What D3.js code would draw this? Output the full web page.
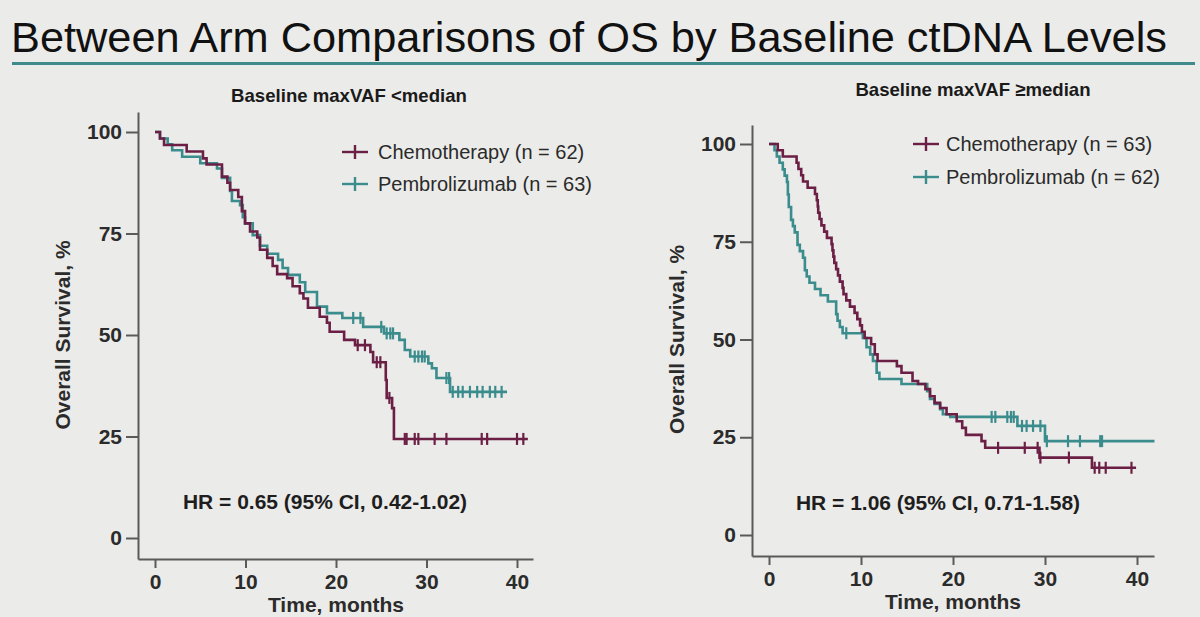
<!DOCTYPE html>
<html>
<head>
<meta charset="utf-8">
<script src="https://cdn.jsdelivr.net/npm/d3@7"></script>
<style>
  body { margin: 0; background: #ebebe9; }
  svg { display: block; font-family: "Liberation Sans", Arial, sans-serif; }
</style>
</head>
<body>
<div id="chart"></div>
<script>
// ---- data (time in months, survival in %) ----
const seriesNames = ["Chemotherapy", "Pembrolizumab"];
const panelTitles = ["Baseline maxVAF <median", "Baseline maxVAF \u2265median"];
const leftCounts = [62, 63];
const rightCounts = [63, 62];
const hrLabels = ["HR = 0.65 (95% CI, 0.42-1.02)", "HR = 1.06 (95% CI, 0.71-1.58)"];
const yTicks = [0, 25, 50, 75, 100];
const xTicks = [0, 10, 20, 30, 40];

const leftChemoSteps = [
  [0, 100], [0.55, 98.4], [1.0, 96.8], [3.5, 95.2], [5.3, 93.5], [5.7, 92.0], [7.4, 89.0],
  [8.0, 87.5], [8.3, 85.7], [9.2, 84.0], [9.6, 80.5], [9.95, 77.5], [10.5, 75.5], [11.3, 74.0],
  [11.6, 71.0], [12.4, 69.0], [13.0, 67.0], [13.5, 65.0], [14.6, 64.0], [15.2, 62.0], [16.0, 60.3],
  [16.4, 59.0], [16.9, 56.7], [18.2, 54.5], [19.0, 53.0], [19.3, 50.8], [20.9, 48.8], [22.1, 47.5],
  [23.8, 45.8], [24.1, 43.3], [25.5, 38.9], [25.6, 34.5], [26.2, 32.0], [26.4, 24.4], [41.2, 24.4]
];
const leftChemoCensored = [22.4, 23.2, 24.5, 24.9, 25.9, 27.6, 27.8, 28.7, 29.1, 30.9, 32.2, 36.1, 36.7, 40.0, 40.7];

const leftPembroSteps = [
  [0, 100], [0.55, 98.4], [1.4, 97.0], [1.9, 95.5], [3.0, 93.9], [5.0, 92.3], [6.85, 91.0],
  [7.4, 88.7], [8.3, 85.5], [8.5, 83.0], [9.4, 82.0], [9.7, 79.0], [9.95, 77.5], [10.8, 74.6],
  [11.6, 72.0], [12.4, 70.0], [13.6, 68.5], [14.1, 66.5], [14.7, 64.8], [16.0, 63.0], [16.6, 60.6],
  [17.9, 57.0], [19.0, 55.4], [20.7, 54.2], [23.0, 52.0], [25.3, 50.4], [27.0, 48.8], [27.6, 46.3],
  [28.2, 44.7], [30.2, 43.0], [30.6, 41.8], [31.1, 39.4], [32.6, 36.0], [38.9, 36.0]
];
const leftPembroCensored = [21.9, 22.7, 25.0, 25.6, 26.0, 26.3, 28.7, 29.1, 29.5, 29.8, 32.2, 32.5,
  32.9, 33.5, 34.0, 34.8, 35.6, 36.2, 37.0, 37.6, 38.3];

const rightChemoSteps = [
  [0, 100], [0.95, 98.4], [1.5, 96.8], [3.0, 95.2], [3.2, 93.6], [3.5, 92.0], [3.7, 90.4],
  [4.2, 88.8], [5.0, 87.2], [5.2, 85.6], [5.3, 84.0], [5.35, 82.4], [5.5, 80.8], [5.7, 79.2],
  [6.0, 77.6], [6.3, 76.0], [6.8, 74.4], [6.9, 72.8], [7.0, 71.2], [7.1, 69.6], [7.3, 68.0],
  [7.5, 66.4], [7.7, 64.8], [8.0, 63.2], [8.1, 61.6], [8.4, 60.0], [8.8, 58.4], [9.3, 56.8],
  [9.6, 55.2], [9.9, 53.6], [10.1, 52.0], [10.4, 50.4], [11.1, 48.8], [11.5, 46.2], [11.8, 44.5],
  [13.9, 43.2], [14.4, 41.5], [15.6, 39.4], [16.2, 38.6], [17.0, 37.3], [17.5, 35.5], [18.0, 33.8],
  [18.6, 32.5], [19.3, 30.9], [20.4, 29.1], [21.0, 27.4], [21.4, 25.6], [23.1, 24.0], [23.5, 22.3],
  [29.4, 19.8], [35.1, 17.2], [39.9, 17.2]
];
const rightChemoCensored = [24.9, 27.8, 29.2, 29.5, 32.6, 35.4, 35.9, 36.6, 39.4];

const rightPembroSteps = [
  [0, 100], [0.6, 98.4], [0.85, 96.8], [1.15, 95.2], [1.5, 93.5], [1.7, 91.9], [1.95, 90.3],
  [2.05, 87.1], [2.15, 83.9], [2.4, 80.6], [2.6, 79.0], [2.8, 77.4], [3.1, 74.2], [3.35, 72.6],
  [3.7, 70.9], [3.9, 67.7], [4.1, 66.1], [4.4, 64.5], [5.0, 62.9], [5.6, 61.3], [6.4, 59.7],
  [7.3, 56.5], [7.45, 54.8], [7.7, 53.2], [8.0, 51.6], [10.2, 50.4], [10.6, 48.0], [11.0, 46.2],
  [11.3, 44.5], [11.7, 41.5], [12.0, 39.9], [14.4, 38.6], [17.2, 36.8], [17.5, 34.8], [18.0, 33.5],
  [18.6, 32.2], [18.9, 30.9], [19.7, 30.2], [27.0, 27.9], [30.0, 24.0], [41.9, 24.0]
];
const rightPembroCensored = [8.4, 24.2, 24.6, 25.9, 26.3, 26.6, 27.5, 28.0, 28.7, 29.5, 30.2, 32.5,
  33.8, 36.0, 36.2];

// ---- layout ----
const width = 1200, height = 617;
const colors = ["#6b1f45", "#3b8c8d"];
const axisColor = "#5a5a5a";
const textColor = "#2b2b2b";

const panels = [
  {
    title: panelTitles[0], titleX: 349, titleY: 102,
    counts: leftCounts, hr: hrLabels[0], hrX: 325, hrY: 509,
    axisX: 138, x0: 155, x40: 517, axisRight: 533,
    y100: 132, y0: 538, axisTop: 112, axisBottom: 559,
    legendX: 355, legendY: [152, 184], legendTextX: 378,
    yLabelX: 70, xLabelY: 612,
    series: [
      { steps: leftChemoSteps, censored: leftChemoCensored },
      { steps: leftPembroSteps, censored: leftPembroCensored }
    ]
  },
  {
    title: panelTitles[1], titleX: 973, titleY: 96,
    counts: rightCounts, hr: hrLabels[1], hrX: 938, hrY: 510,
    axisX: 752, x0: 769, x40: 1137, axisRight: 1154,
    y100: 144, y0: 535, axisTop: 125, axisBottom: 556,
    legendX: 926, legendY: [144, 177], legendTextX: 946,
    yLabelX: 684, xLabelY: 609,
    series: [
      { steps: rightChemoSteps, censored: rightChemoCensored },
      { steps: rightPembroSteps, censored: rightPembroCensored }
    ]
  }
];

const svg = d3.select("#chart").append("svg")
  .attr("width", width)
  .attr("height", height);

svg.append("rect").attr("width", width).attr("height", height).attr("fill", "#ebebe9");

// main title, fitted to the reference width
const title = svg.append("text")
  .attr("x", 11)
  .attr("y", 52)
  .attr("fill", "#111")
  .style("font-size", "40px")
  .text("Between Arm Comparisons of OS by Baseline ctDNA Levels");
const tw = title.node().getComputedTextLength();
title.style("font-size", (40 * 1156 / tw).toFixed(2) + "px");

svg.append("rect")
  .attr("x", 12).attr("y", 62)
  .attr("width", 1183).attr("height", 3)
  .attr("fill", "#3f8a8b");

function survivalAt(steps, t) {
  let s = steps[0][1];
  for (const [st, sv] of steps) {
    if (st <= t) s = sv;
  }
  return s;
}

function drawPanel(p) {
  const g = svg.append("g");

  // scales: ticks 0..40 / 0..100, domains stretched to the axis line ends
  const x = d3.scaleLinear().domain([0, 40]).range([p.x0, p.x40]);
  x.domain([x.invert(p.axisX), x.invert(p.axisRight)]).range([p.axisX, p.axisRight]);
  const y = d3.scaleLinear().domain([0, 100]).range([p.y0, p.y100]);
  y.domain([y.invert(p.axisBottom), y.invert(p.axisTop)]).range([p.axisBottom, p.axisTop]);

  // axes
  const yAxis = g.append("g")
    .attr("transform", `translate(${p.axisX},0)`)
    .call(d3.axisLeft(y).tickValues(yTicks).tickSize(12).tickPadding(4).tickSizeOuter(0));
  const xAxis = g.append("g")
    .attr("transform", `translate(0,${p.axisBottom})`)
    .call(d3.axisBottom(x).tickValues(xTicks).tickSize(9).tickPadding(6).tickSizeOuter(0));
  [yAxis, xAxis].forEach((a) => {
    a.select(".domain").attr("stroke", axisColor).attr("stroke-width", 2);
    a.selectAll(".tick line").attr("stroke", axisColor).attr("stroke-width", 2);
    a.selectAll(".tick text")
      .attr("fill", textColor)
      .style("font-size", "21px")
      .style("font-weight", "bold")
      .style("font-family", "'Liberation Sans', Arial, sans-serif");
  });

  // axis labels
  g.append("text")
    .attr("transform", `translate(${p.yLabelX},${(y(50))}) rotate(-90)`)
    .attr("text-anchor", "middle")
    .attr("fill", textColor)
    .style("font-size", "21px")
    .style("font-weight", "bold")
    .text("Overall Survival, %");
  g.append("text")
    .attr("x", x(20))
    .attr("y", p.xLabelY)
    .attr("text-anchor", "middle")
    .attr("fill", textColor)
    .style("font-size", "21px")
    .style("font-weight", "bold")
    .text("Time, months");

  // panel title
  g.append("text")
    .attr("x", p.titleX)
    .attr("y", p.titleY)
    .attr("text-anchor", "middle")
    .attr("fill", "#1a1a1a")
    .style("font-size", "18.6px")
    .style("font-weight", "bold")
    .text(p.title);

  // survival curves
  const line = d3.line()
    .x((d) => x(d[0]))
    .y((d) => y(d[1]))
    .curve(d3.curveStepAfter);

  // draw pembrolizumab first so chemotherapy sits on top like the reference
  [1, 0].forEach((i) => {
    const s = p.series[i];
    g.append("path")
      .datum(s.steps)
      .attr("d", line)
      .attr("fill", "none")
      .attr("stroke", colors[i])
      .attr("stroke-width", 2.6);
    g.append("g")
      .selectAll("line")
      .data(s.censored)
      .enter()
      .append("line")
      .attr("x1", (t) => x(t))
      .attr("x2", (t) => x(t))
      .attr("y1", (t) => y(survivalAt(s.steps, t)) - 6)
      .attr("y2", (t) => y(survivalAt(s.steps, t)) + 6)
      .attr("stroke", colors[i])
      .attr("stroke-width", 2.2);
  });

  // legend
  seriesNames.forEach((name, i) => {
    const ly = p.legendY[i];
    g.append("line")
      .attr("x1", p.legendX - 13).attr("x2", p.legendX + 13)
      .attr("y1", ly).attr("y2", ly)
      .attr("stroke", colors[i]).attr("stroke-width", 2.4);
    g.append("line")
      .attr("x1", p.legendX).attr("x2", p.legendX)
      .attr("y1", ly - 7).attr("y2", ly + 7)
      .attr("stroke", colors[i]).attr("stroke-width", 2.4);
    g.append("text")
      .attr("x", p.legendTextX)
      .attr("y", ly + 7)
      .attr("fill", "#2a2a2a")
      .style("font-size", "20px")
      .text(`${name} (n = ${p.counts[i]})`);
  });

  // hazard ratio
  g.append("text")
    .attr("x", p.hrX)
    .attr("y", p.hrY)
    .attr("text-anchor", "middle")
    .attr("fill", "#1e1e1e")
    .style("font-size", "21px")
    .style("font-weight", "bold")
    .text(p.hr);
}

panels.forEach(drawPanel);
</script>
</body>
</html>
